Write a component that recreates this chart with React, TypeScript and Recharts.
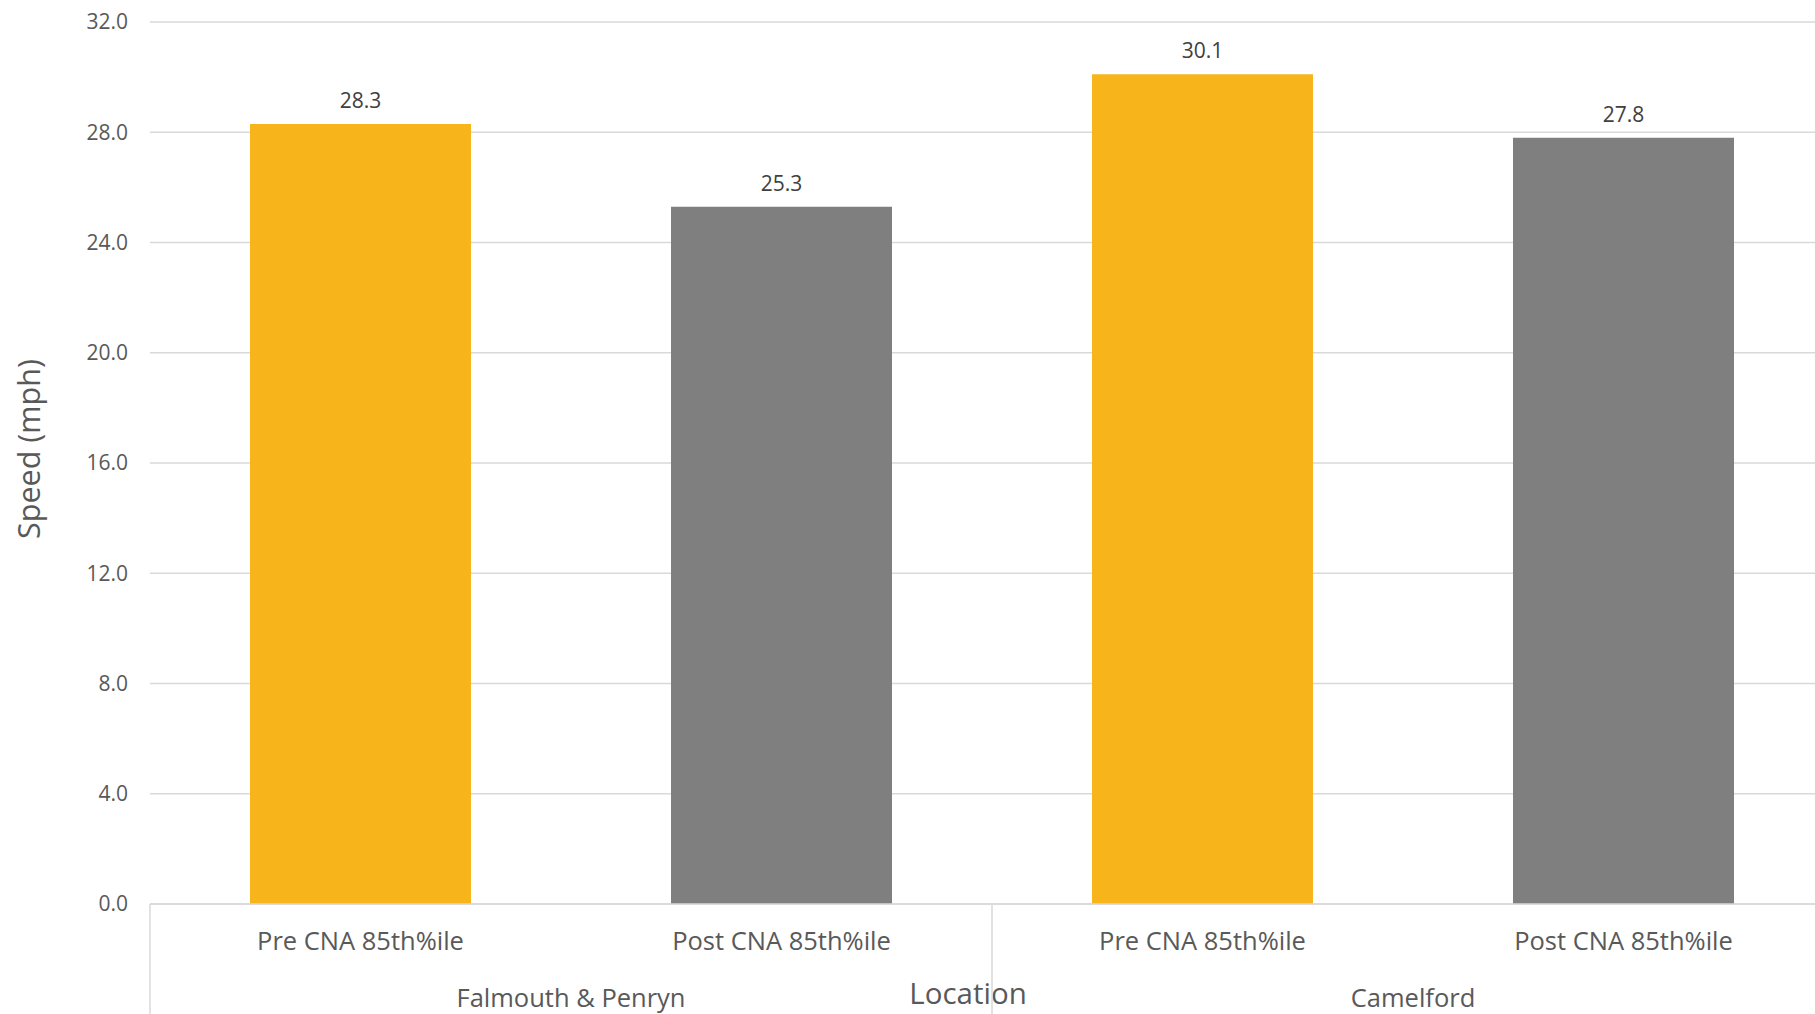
import React from "react";
import { BarChart, Bar, XAxis, YAxis, CartesianGrid, Cell, LabelList } from "recharts";

const locations = ["Falmouth & Penryn", "Camelford"];
const periods = ["Pre CNA 85th%ile", "Post CNA 85th%ile"];
const speeds = [28.3, 25.3, 30.1, 27.8];
const yTicks = [0, 4, 8, 12, 16, 20, 24, 28, 32];
const periodColors = ["#F8B51B", "#7F7F7F"];

const data = speeds.map((v, i) => ({
  key: `${locations[Math.floor(i / 2)]}|${periods[i % 2]}`,
  period: periods[i % 2],
  location: locations[Math.floor(i / 2)],
  speed: v,
}));

const FONT = "'Open Sans', sans-serif";
const TEXT = "#595959";
const LINE = "#D9D9D9";

const CHART_W = 1834;
const CHART_H = 1014;
const Y_AXIS_W = 150;
const PLOT_W = CHART_W - Y_AXIS_W;
const BAND = PLOT_W / data.length;
const X_AXIS_H = 110;

const CategoryTick = (props: any) => {
  const { x, y, index } = props;
  const row = data[index];
  const isFirst = index % 2 === 0;
  const isLast = index === data.length - 1;
  return (
    <g>
      <text x={x} y={y + 46} textAnchor="middle" fill={TEXT} fontSize={25.5} fontFamily={FONT}>
        {row.period}
      </text>
      {isFirst && (
        <>
          <text x={x + BAND / 2} y={y + 103} textAnchor="middle" fill={TEXT} fontSize={25.5} fontFamily={FONT}>
            {row.location}
          </text>
          <line x1={x - BAND / 2} x2={x - BAND / 2} y1={y} y2={y + X_AXIS_H} stroke={LINE} strokeWidth={1.5} />
        </>
      )}
      {isLast && (
        <line x1={x + BAND / 2} x2={x + BAND / 2} y1={y} y2={y + X_AXIS_H} stroke={LINE} strokeWidth={1.5} />
      )}
    </g>
  );
};

export default function App() {
  return (
    <div
      style={{
        position: "absolute",
        left: 0,
        top: 0,
        width: 1815,
        height: 1014,
        overflow: "hidden",
        background: "#fff",
      }}
    >
      <BarChart
        width={CHART_W}
        height={CHART_H}
        data={data}
        margin={{ top: 22, right: 0, bottom: 0, left: 0 }}
        barSize={221}
      >
        <CartesianGrid vertical={false} stroke={LINE} strokeWidth={1.5} />
        <XAxis
          dataKey="key"
          height={X_AXIS_H}
          axisLine={{ stroke: LINE, strokeWidth: 1.5 }}
          tickLine={false}
          tickSize={0}
          tickMargin={0}
          interval={0}
          tick={<CategoryTick />}
          label={{
            value: "Location",
            content: (p: any) => (
              <text
                x={p.viewBox.x + p.viewBox.width / 2 - 24}
                y={1004}
                textAnchor="middle"
                fill={TEXT}
                fontSize={29.5}
                fontFamily={FONT}
              >
                Location
              </text>
            ),
          }}
        />
        <YAxis
          width={Y_AXIS_W}
          domain={[0, 32]}
          ticks={yTicks}
          axisLine={false}
          tickLine={false}
          tickMargin={16}
          tickFormatter={(v: number) => v.toFixed(1)}
          tick={{ fill: TEXT, fontSize: 21, fontFamily: FONT }}
          label={{
            value: "Speed (mph)",
            content: () => (
              <text
                x={40}
                y={449}
                transform="rotate(-90 40 449)"
                textAnchor="middle"
                fill={TEXT}
                fontSize={30.5}
                fontFamily={FONT}
              >
                Speed (mph)
              </text>
            ),
          }}
        />
        <Bar dataKey="speed" isAnimationActive={false}>
          {data.map((d, i) => (
            <Cell key={d.key} fill={periodColors[i % 2]} />
          ))}
          <LabelList
            dataKey="speed"
            position="top"
            offset={16}
            fill="#404040"
            fontSize={21}
            fontFamily={FONT}
            formatter={(v: any) => Number(v).toFixed(1)}
          />
        </Bar>
      </BarChart>
    </div>
  );
}
